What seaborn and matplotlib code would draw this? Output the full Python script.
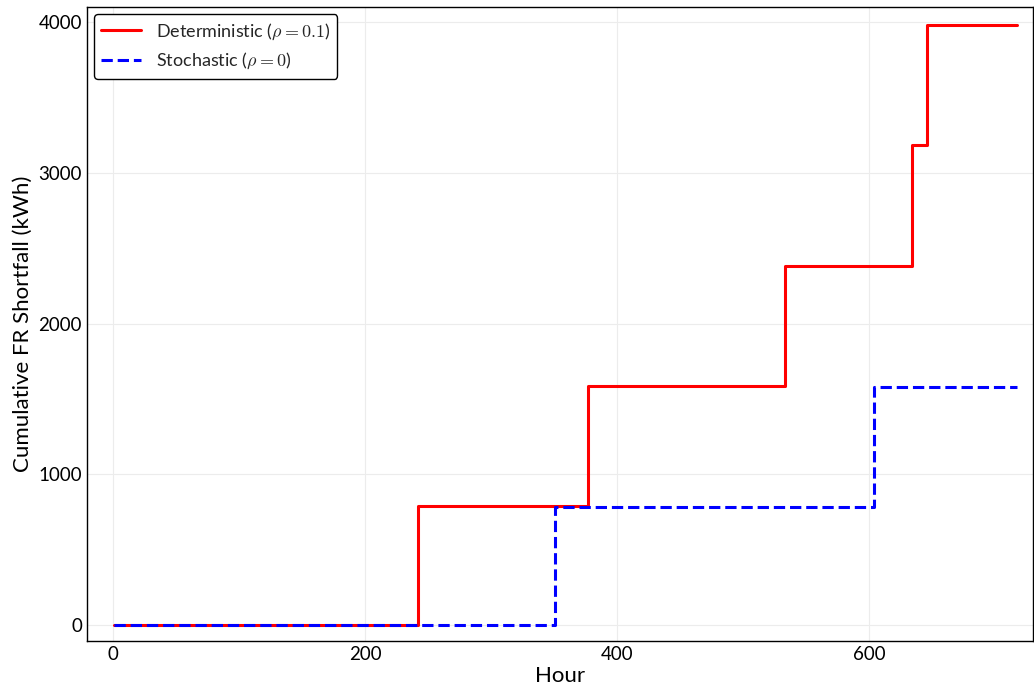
import numpy as np
import pandas as pd
import matplotlib
matplotlib.use("Agg")
import matplotlib.pyplot as plt
import seaborn as sns

# Step change points (hour, cumulative shortfall in kWh)
det_hours = [1, 242, 377, 533, 634, 646, 717]
det_values = [0, 788, 1585, 2385, 3185, 3980, 3980]
sto_hours = [1, 351, 604, 717]
sto_values = [0, 782, 1582, 1582]

det_label = r"Deterministic ($\rho = 0.1$)"
sto_label = r"Stochastic ($\rho = 0$)"

sns.set_theme(style="white")
plt.rcParams["font.family"] = ["Lato", "DejaVu Sans"]
plt.rcParams["mathtext.fontset"] = "cm"

fig = plt.figure(figsize=(10.34, 6.94), dpi=100)
ax = fig.add_axes([0.0841, 0.0764, 0.915, 0.9135])

df_det = pd.DataFrame({"Hour": det_hours, "Value": det_values})
df_sto = pd.DataFrame({"Hour": sto_hours, "Value": sto_values})

sns.lineplot(data=df_det, x="Hour", y="Value", ax=ax, color="#ff0000",
             linewidth=2.2, drawstyle="steps-post", label=det_label)
sns.lineplot(data=df_sto, x="Hour", y="Value", ax=ax, color="#0000ff",
             linewidth=2.2, linestyle="--", drawstyle="steps-post", label=sto_label)

ax.set_xlim(-20.6, 730)
ax.set_ylim(-106, 4100)
ax.set_xticks([0, 200, 400, 600])
ax.set_yticks([0, 1000, 2000, 3000, 4000])
ax.grid(True, color="#ececec", linewidth=0.8)
ax.tick_params(axis="both", length=0, labelsize=13.5, colors="black")
ax.set_xlabel("Hour", fontsize=16, color="black", labelpad=2)
ax.set_ylabel("Cumulative FR Shortfall (kWh)", fontsize=16, color="black", labelpad=4)
for s in ax.spines.values():
    s.set_visible(True)
    s.set_color("black")
    s.set_linewidth(1.0)

leg = ax.legend(loc="upper left", fontsize=13, frameon=True, fancybox=True,
                framealpha=1.0, edgecolor="black", borderaxespad=0.4,
                handlelength=2.2)
leg.get_frame().set_linewidth(1.0)

fig.savefig("out.png", dpi=100)
